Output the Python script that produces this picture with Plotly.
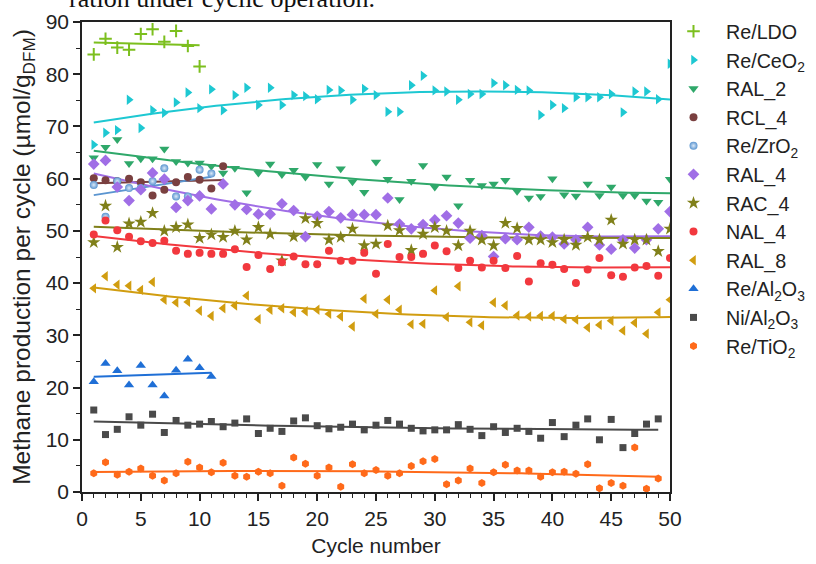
import numpy as np
import plotly.graph_objects as go

# ---------------- data ----------------
cyc10 = list(range(1, 11))
cyc11 = list(range(1, 12))
cyc12 = list(range(1, 13))
cyc49 = list(range(1, 50))
cyc50 = list(range(1, 51))

re_ldo = [83.8, 86.8, 85.1, 84.7, 87.7, 88.6, 86.2, 88.3, 85.4, 81.5]
re_ceo2 = [66.5, 68.8, 69.3, 75.1, 69.7, 73.1, 72.6, 74.6, 76.5, 73.5,
           77.1, 73.1, 76.0, 77.4, 74.1, 77.4, 74.1, 76.0, 75.8, 75.2,
           77.0, 76.9, 75.1, 77.2, 76.0, 72.8, 72.8, 77.9, 79.7, 76.9,
           76.7, 75.1, 76.2, 76.2, 78.3, 77.9, 77.0, 76.9, 72.2, 74.1,
           73.5, 75.6, 75.6, 75.6, 76.2, 72.7, 76.7, 76.7, 75.2, 82.0]
ral_2 = [64.0, 66.0, 67.5, 62.9, 63.8, 63.8, 65.7, 63.3, 63.0, 63.0,
         62.4, 61.1, 62.0, 57.3, 61.1, 62.8, 60.8, 61.6, 60.3, 62.7,
         59.0, 61.9, 59.4, 57.4, 63.2, 59.9, 56.0, 59.5, 62.5, 58.4,
         60.3, 54.8, 59.7, 58.7, 59.0, 59.7, 57.6, 56.3, 56.6, 60.0,
         56.9, 56.7, 59.0, 56.8, 58.4, 56.8, 56.8, 55.7, 55.5, 59.9]
rcl_4 = [60.1, 59.7, 59.5, 60.0, 59.3, 56.8, 57.9, 59.3, 60.3, 59.8, 58.1, 62.4]
re_zro2 = [58.8, 52.7, 59.5, 58.2, 58.2, 59.5, 62.0, 56.6, 56.6, 61.7, 61.0]
ral_4 = [62.8, 63.5, 58.4, 55.8, 57.9, 61.1, 59.9, 54.5, 55.8, 56.7,
         54.2, 59.0, 55.0, 54.1, 53.2, 53.2, 55.2, 53.9, 48.9, 52.8,
         53.7, 52.5, 53.1, 53.1, 53.1, 56.3, 51.3, 50.4, 51.2, 52.1,
         52.9, 51.5, 48.6, 49.1, 45.1, 48.5, 48.3, 50.7, 49.0, 48.8,
         47.5, 48.3, 50.7, 47.3, 46.5, 48.3, 46.7, 48.3, 50.4, 53.7]
rac_4 = [47.8, 54.8, 46.9, 51.4, 51.7, 53.4, 50.0, 50.7, 51.2, 48.6,
         49.3, 48.8, 50.0, 48.3, 50.7, 49.4, 44.3, 48.9, 52.4, 51.5,
         48.3, 48.8, 50.4, 47.2, 47.5, 51.0, 50.1, 46.3, 49.4, 50.7,
         50.0, 47.2, 50.0, 48.3, 47.2, 51.5, 50.5, 48.3, 48.3, 47.8,
         48.3, 47.3, 48.8, 48.3, 52.1, 47.5, 48.3, 48.3, 46.1, 50.4]
nal_4 = [49.3, 52.0, 50.1, 48.9, 48.0, 47.7, 48.1, 46.2, 45.6, 45.8,
         45.6, 45.6, 46.5, 43.1, 45.4, 42.7, 44.0, 45.1, 43.6, 43.6,
         46.2, 44.3, 44.3, 45.8, 41.8, 47.5, 45.0, 45.0, 45.6, 47.2,
         46.1, 42.9, 44.3, 43.0, 44.3, 42.9, 45.2, 40.3, 43.8, 43.5,
         42.7, 40.0, 42.6, 44.8, 41.5, 41.2, 43.0, 43.3, 41.4, 44.8]
ral_8 = [39.0, 41.3, 39.7, 39.5, 38.7, 40.2, 36.8, 36.3, 36.4, 34.7,
         33.7, 35.2, 35.7, 37.6, 33.1, 34.9, 35.2, 34.4, 34.6, 34.9,
         34.1, 33.6, 31.7, 37.0, 34.1, 36.8, 34.9, 32.1, 32.2, 38.6,
         33.5, 39.4, 32.5, 31.9, 36.3, 35.7, 33.8, 33.6, 33.7, 33.7,
         33.1, 33.0, 31.5, 32.0, 32.8, 30.9, 32.4, 30.3, 34.4, 36.8]
re_al2o3 = [21.1, 24.6, 23.2, 20.5, 24.2, 20.5, 18.4, 23.3, 25.4, 23.8, 22.1]
ni_al2o3 = [15.7, 11.0, 12.0, 14.4, 12.8, 14.9, 11.4, 13.7, 12.8, 13.0,
            13.5, 12.5, 13.2, 14.0, 11.2, 12.2, 11.6, 13.6, 14.2, 12.7,
            12.1, 12.4, 13.0, 11.9, 12.8, 13.7, 13.0, 12.2, 11.7, 11.9,
            11.9, 12.9, 12.0, 10.8, 12.5, 11.4, 12.2, 11.6, 10.3, 13.3,
            10.6, 12.8, 14.0, 10.0, 13.9, 8.5, 11.2, 13.0, 14.0]
re_tio2 = [3.6, 5.7, 3.3, 3.9, 4.5, 3.1, 2.2, 3.6, 5.8, 4.7,
           3.8, 5.6, 3.1, 2.9, 3.9, 3.6, 1.2, 6.6, 5.4, 3.1,
           4.7, 1.0, 5.3, 3.6, 4.2, 3.1, 3.6, 5.0, 5.9, 6.3,
           1.5, 2.2, 4.5, 1.7, 3.8, 5.2, 4.1, 4.1, 2.9, 3.8,
           3.9, 3.5, 5.3, 0.7, 1.7, 1.2, 8.5, 0.6, 2.6]

# name, cycles, values, color, symbol, size, fit degree
series = [
    ("Re/LDO", cyc10, re_ldo, "#7cbf1e", "cross-thin", 9, 1),
    ("Re/CeO<sub>2</sub>", cyc50, re_ceo2, "#1ec8d2", "triangle-right", 9, 2),
    ("RAL_2", cyc50, ral_2, "#2fa86a", "triangle-down", 9, 2),
    ("RCL_4", cyc12, rcl_4, "#7a4040", "circle", 8, 1),
    ("Re/ZrO<sub>2</sub>", cyc11, re_zro2, "#5b95d0", "circle", 8, 1),
    ("RAL_4", cyc50, ral_4, "#a06ee6", "diamond", 9, 2),
    ("RAC_4", cyc50, rac_4, "#80801a", "star", 10, 2),
    ("NAL_4", cyc50, nal_4, "#f2383e", "circle", 8, 2),
    ("RAL_8", cyc50, ral_8, "#d19d10", "triangle-left", 9, 2),
    ("Re/Al<sub>2</sub>O<sub>3</sub>", cyc11, re_al2o3, "#1f6fd6", "triangle-up", 9, 1),
    ("Ni/Al<sub>2</sub>O<sub>3</sub>", cyc49, ni_al2o3, "#4a4a4a", "square", 7, 2),
    ("Re/TiO<sub>2</sub>", cyc49, re_tio2, "#ff6a1a", "hexagon", 8, 2),
]

FONT = "Arial, Liberation Sans, sans-serif"

fig = go.Figure()

# fitted trend lines (drawn first, under markers)
for name, xs, ys, color, sym, size, deg in series:
    coef = np.polyfit(xs, ys, deg)
    xf = np.linspace(min(xs), max(xs), 100)
    fig.add_trace(go.Scatter(x=xf, y=np.polyval(coef, xf), mode="lines",
                             line=dict(color=color, width=2),
                             showlegend=False, hoverinfo="skip"))

for name, xs, ys, color, sym, size, deg in series:
    marker = dict(color=color, symbol=sym, size=size, line=dict(width=0))
    if sym == "cross-thin":
        marker["line"] = dict(color=color, width=2)
    if name.startswith("Re/ZrO"):
        marker["gradient"] = dict(type="radial", color="#dbe9f8")
    fig.add_trace(go.Scatter(x=xs, y=ys, mode="markers", name=name, marker=marker))

axis_common = dict(
    showline=True, linecolor="#222", linewidth=1.6, mirror=True,
    ticks="outside", ticklen=7, tickwidth=1.5, tickcolor="#222",
    showgrid=False, zeroline=False,
    tickfont=dict(family=FONT, size=21, color="#222"),
)

fig.update_xaxes(range=[0, 50], dtick=5, tick0=0,
                 minor=dict(dtick=1, ticks="outside", ticklen=4, tickwidth=1.3, tickcolor="#222"),
                 title=dict(text="Cycle number", font=dict(family=FONT, size=21, color="#222"), standoff=9),
                 **axis_common)
fig.update_yaxes(range=[0, 90], dtick=10, tick0=0,
                 minor=dict(dtick=5, ticks="outside", ticklen=4, tickwidth=1.3, tickcolor="#222"),
                 title=dict(text="Methane production per cycle (µmol/g<sub>DFM</sub>)",
                            font=dict(family=FONT, size=24.5, color="#222"), standoff=8),
                 **axis_common)

fig.add_annotation(text="ration under cyclic operation.", xref="paper", yref="paper",
                   x=(377 - 82) / 588, y=1 + 23 / 470, xanchor="right", yanchor="middle",
                   showarrow=False, font=dict(family="Liberation Serif, Times New Roman, serif", size=26, color="#111"))

fig.update_layout(
    width=816, height=564,
    margin=dict(l=82, r=146, t=22, b=72, autoexpand=False),
    paper_bgcolor="white", plot_bgcolor="white",
    showlegend=True,
    legend=dict(x=(661 - 82) / 588, xanchor="left", y=1 + 10 / 470, yanchor="top",
                font=dict(family=FONT, size=19.7, color="#222"),
                itemwidth=55, maxheight=900, bgcolor="rgba(0,0,0,0)", borderwidth=0),
)

fig.write_html("out.html")
